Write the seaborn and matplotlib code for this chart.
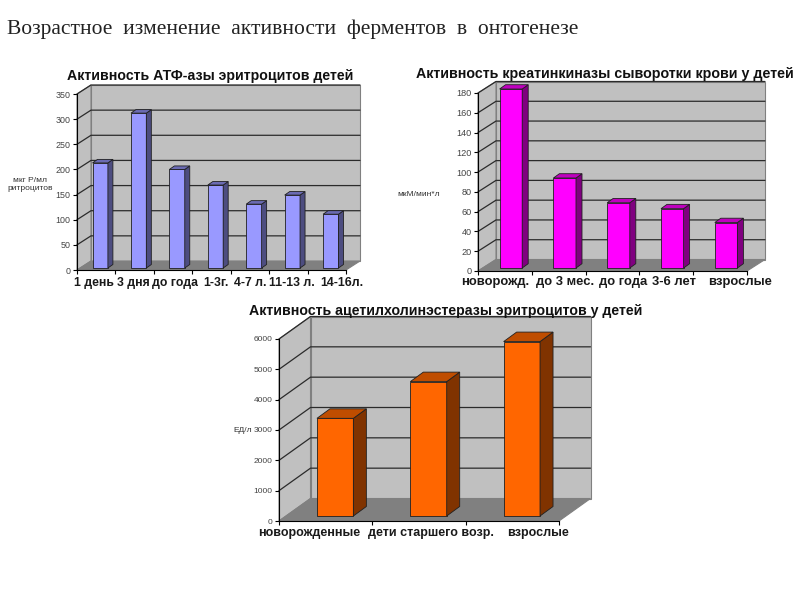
import matplotlib
matplotlib.use('Agg')
import pandas as pd
import seaborn as sns
import matplotlib.pyplot as plt
from matplotlib.patches import Polygon
from matplotlib.transforms import Affine2D

# values
atp_ages = ['1 день', '3 дня', 'до года', '1-3г.', '4-7 л.', '11-13 л.', '14-16л.']
atp_values = [209, 308, 196, 165, 127, 145, 107]

ck_ages = ['новорожд.', 'до 3 мес.', 'до года', '3-6 лет', 'взрослые']
ck_values = [181, 91, 66, 60, 46]

ache_ages = ['новорожденные', 'дети старшего возр.', 'взрослые']
ache_values = [3220, 4430, 5750]

sns.set_theme(style='white')
plt.rcParams['font.family'] = ['Liberation Sans', 'DejaVu Sans']

fig = plt.figure(figsize=(8, 6), dpi=100, facecolor='white')


def px_text(x, y, s, **kw):
    kw.setdefault('va', 'center')
    fig.text(x / 800, 1 - y / 600, s, **kw)


def chart(df, left, right, bottom, top, ymax, step, depth, shift, bar_depth, width,
          colors, label_shift, label_size, tick_size, label_pad):
    ax = fig.add_axes([left / 800, 1 - bottom / 600, (right - left) / 800, (bottom - top) / 600])
    sns.barplot(data=df, x='age', y='value', color=colors[0], saturation=1, width=width, ax=ax)
    n = len(df)
    ax.set_xlim(-0.5, n - 0.5)
    ax.set_ylim(0, ymax)
    ax.patch.set_alpha(0)

    # pixels to data units
    ux = n / (right - left)
    uy = ymax / (bottom - top)
    dx, dy = depth[0] * ux, depth[1] * uy
    x0, x1 = -0.5, n - 0.5
    bars = list(ax.patches)

    # walls and floor
    ax.add_patch(Polygon([(x0 + dx, dy), (x1 + dx, dy), (x1 + dx, ymax + dy), (x0 + dx, ymax + dy)],
                         fc='#C0C0C0', ec='#808080', lw=0.8, zorder=0.5, clip_on=False))
    ax.add_patch(Polygon([(x0, 0), (x0 + dx, dy), (x0 + dx, ymax + dy), (x0, ymax)],
                         fc='#C0C0C0', ec='#808080', lw=0.8, zorder=0.5, clip_on=False))
    ax.add_patch(Polygon([(x0, 0), (x1, 0), (x1 + dx, dy), (x0 + dx, dy)],
                         fc='#808080', ec='#808080', lw=0.8, zorder=0.6, clip_on=False))
    for v in range(step, ymax + 1, step):
        ax.plot([x0, x0 + dx, x1 + dx], [v, v + dy, v + dy], color='#2b2b2b', lw=0.9,
                zorder=0.7, clip_on=False)

    # bars with side and top faces
    sx, sy = shift[0] * ux, shift[1] * uy
    bx, by = bar_depth[0] * ux, bar_depth[1] * uy
    for bar in bars:
        l = bar.get_x() + sx
        w = bar.get_width()
        h = bar.get_height()
        bar.set_x(l)
        bar.set_y(sy)
        bar.set(edgecolor='#202020', linewidth=0.6, zorder=3, clip_on=False)
        t = sy + h
        ax.add_patch(Polygon([(l + w, sy), (l + w + bx, sy + by), (l + w + bx, t + by), (l + w, t)],
                             fc=colors[1], ec='#202020', lw=0.6, zorder=3, clip_on=False))
        ax.add_patch(Polygon([(l, t), (l + w, t), (l + w + bx, t + by), (l + bx, t + by)],
                             fc=colors[2], ec='#202020', lw=0.6, zorder=3, clip_on=False))

    ax.set_xlabel('')
    ax.set_ylabel('')
    ax.set_yticks(range(0, ymax + 1, step))
    ax.tick_params(axis='y', labelsize=tick_size, labelcolor='#444444', length=3, width=0.8,
                   color='black', left=True, pad=1.5)
    ax.set_xticks(range(n))
    ax.set_xticklabels(df['age'], fontsize=label_size, fontweight='bold', color='#1a1a1a')
    ax.tick_params(axis='x', length=0, pad=label_pad)
    ax.set_xticks([i - 0.5 for i in range(n + 1)], minor=True)
    ax.tick_params(axis='x', which='minor', length=3, width=0.8, color='black', bottom=True)
    for lab, off in zip(ax.get_xticklabels(), label_shift):
        lab.set_transform(lab.get_transform() + Affine2D().translate(off, 0))
    for name, sp in ax.spines.items():
        sp.set_visible(name in ('left', 'bottom'))
        sp.set_color('black')
        sp.set_linewidth(0.8)
    return ax


atp = pd.DataFrame({'age': atp_ages, 'value': atp_values})
ck = pd.DataFrame({'age': ck_ages, 'value': ck_values})
ache = pd.DataFrame({'age': ache_ages, 'value': ache_values})

chart(atp, 77, 346, 270, 94, 350, 50, (14, 9), (4, 2), (5, 3.5), 0.4,
      ('#9999FF', '#4D4D80', '#6B6BB3'), [-2, -1, 2, 4, 0, 4, 15], 8.8, 6.4, 5)
chart(ck, 478, 747, 271, 93, 180, 20, (18, 11.5), (6, 3), (6, 4.3), 0.42,
      ('#FF00FF', '#800080', '#BF00BF'), [-10, 6, 11, 8, 20], 9.4, 6.6, 3.5)
chart(ache, 279, 559, 521, 339, 6000, 1000, (31.5, 22.5), (9.5, 5), (13, 9.5), 0.39,
      ('#FF6600', '#803300', '#BF4D00'), [-16, 12, 26], 9.0, 6.0, 4.2)

px_text(7, 29, 'Возрастное  изменение  активности  ферментов  в  онтогенезе',
        family=['Liberation Serif', 'DejaVu Serif'], fontsize=15.45, color='#222222')
px_text(210, 76, 'Активность АТФ-азы эритроцитов детей', ha='center', fontsize=10.2,
        fontweight='bold', color='#111111')
px_text(605, 74, 'Активность креатинкиназы сыворотки крови у детей', ha='center', fontsize=10.3,
        fontweight='bold', color='#111111')
px_text(446, 311, 'Активность ацетилхолинэстеразы эритроцитов у детей', ha='center', fontsize=10.2,
        fontweight='bold', color='#111111')
px_text(30, 184, 'мкг Р/мл\nритроцитов', ha='center', fontsize=6, color='#333333')
px_text(419, 195, 'мкМ/мин*л', ha='center', fontsize=6, color='#333333')
px_text(243, 431, 'ЕД/л', ha='center', fontsize=6, color='#333333')

plt.savefig('out.png', dpi=100)
